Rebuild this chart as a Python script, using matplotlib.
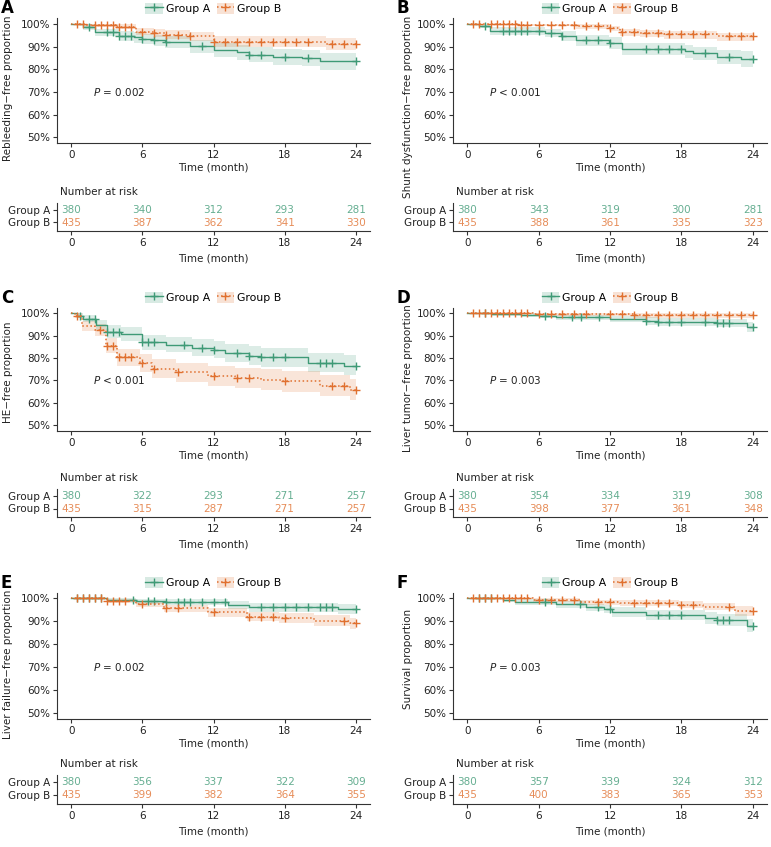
import numpy as np
import matplotlib
matplotlib.use("Agg")
import matplotlib.pyplot as plt
from matplotlib.lines import Line2D
from matplotlib.patches import Patch

W, H = 771, 847
GREEN = "#3f9a76"
ORANGE = "#e0702f"
TXT = "#222222"
FS = 7.5

plt.rcParams['font.family'] = ['DejaVu Sans']
plt.rcParams['mathtext.fontset'] = 'dejavusans'

risk_times = [0, 6, 12, 18, 24]
groups = ["Group A", "Group B"]

# ---- panel A: rebleeding
a_A_t = [0, 1.0, 2.0, 4.0, 5.3, 6.0, 7.0, 7.9, 10.0, 12.0, 14.0, 15.0, 17.0, 19.5, 21.0, 24]
a_A_s = [100, 98.6, 96.3, 94.8, 94.1, 93.4, 92.8, 92.0, 90.2, 88.5, 87.5, 86.5, 85.4, 84.8, 83.7, 83.7]
a_A_lo = [100, 97.4, 94.6, 92.7, 91.8, 91.0, 90.3, 89.4, 87.3, 85.5, 84.3, 83.2, 82.0, 81.3, 79.8, 79.8]
a_A_hi = [100, 99.8, 98.0, 96.9, 96.3, 95.7, 95.2, 94.6, 93.1, 91.5, 90.7, 89.8, 88.8, 88.3, 87.2, 87.2]
a_A_c = [1.5, 3.0, 3.5, 4.0, 4.5, 5.0, 6.0, 7.0, 8.0, 11.0, 15.0, 16.0, 18.0, 20.0, 24.0]
a_B_t = [0, 1.2, 3.8, 5.5, 7.0, 7.9, 10.0, 12.0, 21.5, 24]
a_B_s = [100, 99.4, 98.8, 96.6, 96.0, 95.3, 94.5, 92.2, 91.2, 91.2]
a_B_lo = [100, 98.7, 97.8, 95.0, 94.2, 93.4, 92.4, 89.9, 88.6, 88.6]
a_B_hi = [100, 100, 99.8, 98.3, 97.8, 97.2, 96.6, 94.5, 93.8, 93.8]
a_B_c = [0.5, 1.0, 2.0, 2.5, 3.0, 3.5, 4.0, 4.5, 5.0, 6.0, 7.0, 8.0, 9.0, 10.0, 12.0, 13.0,
         14.0, 15.0, 16.0, 17.0, 18.0, 19.0, 20.0, 22.0, 23.0, 24.0]
a_risk_A = [380, 340, 312, 293, 281]
a_risk_B = [435, 387, 362, 341, 330]

# ---- panel B: shunt dysfunction
b_A_t = [0, 1.0, 1.9, 6.5, 7.9, 9.1, 11.9, 13.0, 18.3, 19.0, 21.0, 23.0, 24]
b_A_s = [100, 99.3, 96.8, 96.0, 94.8, 92.8, 91.6, 89.1, 87.9, 87.0, 85.3, 84.4, 84.4]
b_A_lo = [100, 98.4, 95.1, 94.1, 92.7, 90.4, 89.1, 86.4, 85.0, 84.0, 82.2, 81.1, 81.1]
b_A_hi = [100, 100, 98.5, 97.9, 96.9, 95.2, 94.1, 91.8, 90.8, 90.0, 88.4, 87.9, 87.9]
b_A_c = [1.5, 3.0, 3.5, 4.0, 4.5, 5.0, 6.0, 7.0, 8.0, 10.0, 11.0, 12.0, 15.0, 16.0, 17.0,
         18.0, 20.0, 22.0, 24.0]
b_B_t = [0, 4.2, 9.1, 11.9, 12.8, 14.5, 16.5, 21.0, 24]
b_B_s = [100, 99.6, 99.0, 98.3, 96.5, 96.0, 95.4, 94.5, 94.5]
b_B_lo = [100, 98.9, 98.0, 97.0, 94.9, 94.2, 93.5, 92.5, 92.5]
b_B_hi = [100, 100, 99.8, 99.3, 97.8, 97.4, 96.9, 96.1, 96.1]
b_B_c = [0.5, 1.0, 2.0, 2.5, 3.0, 3.5, 4.0, 4.5, 5.0, 6.0, 7.0, 8.0, 9.0, 10.0, 11.0, 12.0,
         13.0, 14.0, 15.0, 16.0, 17.0, 18.0, 19.0, 20.0, 22.0, 23.0, 24.0]
b_risk_A = [380, 343, 319, 300, 281]
b_risk_B = [435, 388, 361, 335, 323]

# ---- panel C: HE
c_A_t = [0, 0.5, 1.0, 2.1, 3.0, 4.2, 6.0, 8.0, 10.2, 12.0, 13.0, 15.0, 16.0, 20.0, 23.0, 24]
c_A_s = [100, 98.8, 97.6, 94.6, 91.7, 90.8, 87.0, 86.0, 84.6, 83.6, 82.3, 81.1, 80.3, 78.0, 76.5, 76.5]
c_A_lo = [100, 97.7, 96.0, 92.3, 88.9, 87.8, 83.6, 82.5, 80.9, 79.8, 78.4, 77.0, 76.1, 73.6, 72.3, 72.3]
c_A_hi = [100, 99.9, 99.2, 96.9, 94.5, 93.8, 90.4, 89.5, 88.3, 87.4, 86.2, 85.2, 84.5, 82.4, 81.3, 81.3]
c_A_c = [0.75, 1.5, 2.0, 3.0, 3.5, 4.0, 6.0, 6.5, 7.0, 9.5, 11.0, 12.0, 14.0, 15.0, 16.0, 17.0,
         18.0, 21.0, 21.5, 22.0, 24.0]
c_B_t = [0, 0.3, 0.9, 2.0, 2.9, 3.9, 5.8, 6.8, 8.8, 11.5, 13.8, 16.0, 17.8, 21.0, 23.5, 24]
c_B_s = [100, 98.9, 94.4, 92.5, 85.5, 80.3, 77.6, 75.3, 73.7, 72.0, 71.0, 70.3, 69.6, 67.6, 65.8, 65.8]
c_B_lo = [100, 97.9, 92.1, 89.9, 82.4, 76.5, 73.6, 71.1, 69.4, 67.6, 66.5, 65.7, 65.0, 62.9, 61.2, 61.2]
c_B_hi = [100, 99.9, 96.6, 95.0, 89.0, 84.1, 81.6, 79.5, 78.0, 76.4, 75.5, 74.9, 74.2, 72.3, 70.8, 70.8]
c_B_c = [0.5, 2.4, 3.0, 3.5, 4.0, 4.5, 5.0, 6.0, 7.0, 9.0, 12.0, 14.0, 15.0, 18.0, 22.0, 23.0, 24.0]
c_risk_A = [380, 322, 293, 271, 257]
c_risk_B = [435, 315, 287, 271, 257]

# ---- panel D: liver tumor
d_A_t = [0, 2.0, 4.5, 6.0, 7.5, 12.0, 15.0, 16.0, 21.0, 23.5, 24]
d_A_s = [100, 99.6, 99.2, 98.9, 98.3, 97.5, 96.6, 96.1, 95.6, 93.8, 93.8]
d_A_lo = [100, 98.9, 98.3, 97.8, 97.0, 96.0, 94.9, 94.3, 93.6, 91.5, 91.5]
d_A_hi = [100, 100, 99.9, 99.7, 99.3, 98.8, 98.2, 97.9, 97.5, 96.2, 96.2]
d_A_c = [1.5, 6.5, 8.8, 9.6, 11.1, 15.0, 16.0, 17.0, 18.0, 20.0, 21.0, 21.5, 22.0, 24.0]
d_B_t = [0, 5.5, 14.0, 24]
d_B_s = [100, 99.6, 99.2, 99.2]
d_B_lo = [100, 98.8, 97.9, 97.9]
d_B_hi = [100, 100, 100, 100]
d_B_c = [0.5, 1.0, 1.5, 2.0, 2.5, 3.0, 3.5, 4.0, 4.5, 5.0, 6.0, 7.0, 8.0, 9.0, 10.0, 12.0, 13.0,
         14.0, 15.0, 16.0, 17.0, 18.0, 19.0, 20.0, 21.0, 22.0, 23.0, 24.0]
d_risk_A = [380, 354, 334, 319, 308]
d_risk_B = [435, 398, 377, 361, 348]

# ---- panel E: liver failure
e_A_t = [0, 3.0, 5.5, 8.0, 13.2, 15.0, 22.5, 24]
e_A_s = [100, 99.3, 98.7, 98.2, 97.1, 96.0, 95.2, 95.2]
e_A_lo = [100, 98.5, 97.6, 96.9, 95.5, 94.1, 93.1, 93.1]
e_A_hi = [100, 100, 99.8, 99.5, 98.7, 97.9, 97.3, 97.3]
e_A_c = [0.5, 1.0, 1.5, 2.0, 2.5, 5.2, 6.5, 7.0, 8.0, 9.0, 9.5, 10.0, 11.0, 12.0, 13.0, 16.0,
         17.0, 18.0, 19.0, 20.0, 21.0, 21.5, 22.0, 24.0]
e_B_t = [0, 3.0, 5.5, 7.8, 11.5, 14.8, 17.5, 20.5, 23.5, 24]
e_B_s = [100, 98.8, 97.4, 95.6, 93.9, 92.0, 91.3, 90.3, 89.2, 89.2]
e_B_lo = [100, 97.9, 96.1, 94.0, 92.0, 89.9, 89.1, 88.0, 86.8, 86.8]
e_B_hi = [100, 99.7, 98.7, 97.2, 95.8, 94.1, 93.5, 92.6, 91.6, 91.6]
e_B_c = [0.5, 1.0, 1.5, 2.0, 2.5, 3.0, 3.5, 4.0, 4.5, 6.0, 8.0, 9.0, 12.0, 15.0, 16.0, 17.0,
         18.0, 23.0, 24.0]
e_risk_A = [380, 356, 337, 322, 309]
e_risk_B = [435, 399, 382, 364, 355]

# ---- panel F: survival
f_A_t = [0, 3.0, 4.0, 7.5, 10.0, 11.5, 12.2, 15.0, 20.0, 21.0, 23.5, 24]
f_A_s = [100, 99.2, 98.4, 97.4, 96.0, 95.3, 93.9, 92.7, 91.5, 90.6, 88.1, 88.1]
f_A_lo = [100, 98.3, 97.2, 95.9, 94.3, 93.4, 91.8, 90.4, 89.0, 88.0, 85.5, 85.5]
f_A_hi = [100, 100, 99.5, 98.8, 97.7, 97.1, 96.0, 95.0, 94.0, 93.3, 90.9, 90.9]
f_A_c = [1.0, 1.5, 2.0, 6.5, 9.5, 11.0, 12.0, 16.0, 17.0, 18.0, 21.0, 21.5, 22.0, 24.0]
f_B_t = [0, 5.5, 9.5, 12.8, 17.8, 19.8, 22.5, 24]
f_B_s = [100, 99.3, 98.3, 97.8, 97.1, 96.4, 94.5, 94.5]
f_B_lo = [100, 98.5, 97.2, 96.5, 95.6, 94.7, 92.3, 92.3]
f_B_hi = [100, 100, 99.4, 99.1, 98.6, 98.1, 96.7, 96.7]
f_B_c = [0.5, 1.0, 1.5, 2.0, 2.5, 3.0, 3.5, 4.0, 4.5, 5.0, 6.0, 7.0, 8.0, 9.0, 11.0, 12.0, 14.0,
         15.0, 16.0, 17.0, 18.0, 19.0, 22.0, 24.0]
f_risk_A = [380, 357, 339, 324, 312]
f_risk_B = [435, 400, 383, 365, 353]

panels = [
    ("A", "Rebleeding\u2212free proportion", "= 0.002",
     (a_A_t, a_A_s, a_A_lo, a_A_hi, a_A_c), (a_B_t, a_B_s, a_B_lo, a_B_hi, a_B_c), a_risk_A, a_risk_B),
    ("B", "Shunt dysfunction\u2212free proportion", "< 0.001",
     (b_A_t, b_A_s, b_A_lo, b_A_hi, b_A_c), (b_B_t, b_B_s, b_B_lo, b_B_hi, b_B_c), b_risk_A, b_risk_B),
    ("C", "HE\u2212free proportion", "< 0.001",
     (c_A_t, c_A_s, c_A_lo, c_A_hi, c_A_c), (c_B_t, c_B_s, c_B_lo, c_B_hi, c_B_c), c_risk_A, c_risk_B),
    ("D", "Liver tumor\u2212free proportion", "= 0.003",
     (d_A_t, d_A_s, d_A_lo, d_A_hi, d_A_c), (d_B_t, d_B_s, d_B_lo, d_B_hi, d_B_c), d_risk_A, d_risk_B),
    ("E", "Liver failure\u2212free proportion", "= 0.002",
     (e_A_t, e_A_s, e_A_lo, e_A_hi, e_A_c), (e_B_t, e_B_s, e_B_lo, e_B_hi, e_B_c), e_risk_A, e_risk_B),
    ("F", "Survival proportion", "= 0.003",
     (f_A_t, f_A_s, f_A_lo, f_A_hi, f_A_c), (f_B_t, f_B_s, f_B_lo, f_B_hi, f_B_c), f_risk_A, f_risk_B),
]

fig = plt.figure(figsize=(W / 100, H / 100), dpi=100)


def add_ax(l, t, r, b):
    return fig.add_axes([l / W, 1 - b / H, (r - l) / W, (b - t) / H])


def fx(x):
    return x / W


def fy(y):
    return 1 - y / H


def style_axis(ax):
    for s in ["top", "right"]:
        ax.spines[s].set_visible(False)
    for s in ["left", "bottom"]:
        ax.spines[s].set_linewidth(0.8)
        ax.spines[s].set_color("#333333")
    ax.tick_params(length=3, width=0.8, color="#333333", labelsize=FS, labelcolor=TXT, pad=2)


cols = [(57, 370), (453, 767)]
ylab_x = [8, 408]
plot_rows = [(18.3, 143), (307.5, 431), (592.5, 719)]
tab_rows = [(210, 222.5, 231), (496, 508.5, 517), (782, 795, 804)]
xlim = (-1.2, 25.2)

for i, (letter, ylab, ptxt, ga, gb, rA, rB) in enumerate(panels):
    r, c = divmod(i, 2)
    l, rr = cols[c]
    top, bot = plot_rows[r]
    ax = add_ax(l, top, rr, bot)
    for g, col, ls in [(ga, GREEN, "-"), (gb, ORANGE, ":")]:
        t, s, lo, hi, cen = [np.asarray(v, float) for v in g]
        ax.fill_between(t, lo, hi, step="post", color=col, alpha=0.18, lw=0)
        ax.step(t, s, where="post", color=col, lw=1.0 if ls == "-" else 1.1, ls=ls)
        idx = np.searchsorted(t, cen, side="right") - 1
        ax.plot(cen, s[idx], ls="none", marker="+", ms=6, mew=1.0, color=col)
    ax.set_xlim(*xlim)
    ax.set_ylim(47.5, 102.5)
    ax.set_xticks(risk_times)
    ax.set_yticks([50, 60, 70, 80, 90, 100])
    ax.set_yticklabels([f"{v}%" for v in [50, 60, 70, 80, 90, 100]])
    style_axis(ax)
    ax.set_xlabel("Time (month)", fontsize=FS, color=TXT, labelpad=2)
    ax.text(1.8, 70, r"$\mathit{P}$ " + ptxt, fontsize=FS, color=TXT, ha="left", va="center")
    if len(ylab) >= 26:
        fig.text(fx(ylab_x[c]), fy(top - 3), ylab, rotation=90, ha="center", va="top",
                 fontsize=FS, color=TXT)
    else:
        fig.text(fx(ylab_x[c]), fy((top + bot) / 2 + 3), ylab, rotation=90, ha="center",
                 va="center", fontsize=FS, color=TXT)
    fig.text(fx(l - 57 + 1), fy(top - 10), letter, fontsize=12, fontweight="bold", ha="left",
             va="center", color="black")

    handles = [(Patch(facecolor=GREEN, alpha=0.2, edgecolor="none"),
                Line2D([], [], color=GREEN, ls="-", marker="+", ms=6, lw=1.0)),
               (Patch(facecolor=ORANGE, alpha=0.2, edgecolor="none"),
                Line2D([], [], color=ORANGE, ls=":", marker="+", ms=6, lw=1.1))]
    ax.legend(handles, groups, loc="center", bbox_to_anchor=(fx((l + rr) / 2), fy(top - 10)),
              bbox_transform=fig.transFigure, ncol=2, frameon=False, fontsize=7.8,
              handlelength=1.6, handleheight=1.2, handletextpad=0.3, columnspacing=0.6,
              numpoints=1, borderpad=0, borderaxespad=0)

    # risk table
    ya, yb, ybot = tab_rows[r]
    sp = yb - ya
    tt = ya - 7
    tax = add_ax(l, tt, rr, ybot)
    tax.set_xlim(*xlim)
    tax.set_ylim(1 - (ybot - yb) / sp, 2 + (ya - tt) / sp)
    for j, tm in enumerate(risk_times):
        tax.text(tm, 2, str(rA[j]), color=GREEN, alpha=0.8, fontsize=FS, ha="center", va="center")
        tax.text(tm, 1, str(rB[j]), color=ORANGE, alpha=0.8, fontsize=FS, ha="center", va="center")
    tax.set_xticks(risk_times)
    tax.set_yticks([2, 1])
    tax.set_yticklabels(groups)
    style_axis(tax)
    tax.set_xlabel("Time (month)", fontsize=FS, color=TXT, labelpad=4)
    fig.text(fx(l + 3), fy(tt - 11), "Number at risk", fontsize=FS, color=TXT, ha="left", va="center")

fig.savefig("out.png", dpi=100)
